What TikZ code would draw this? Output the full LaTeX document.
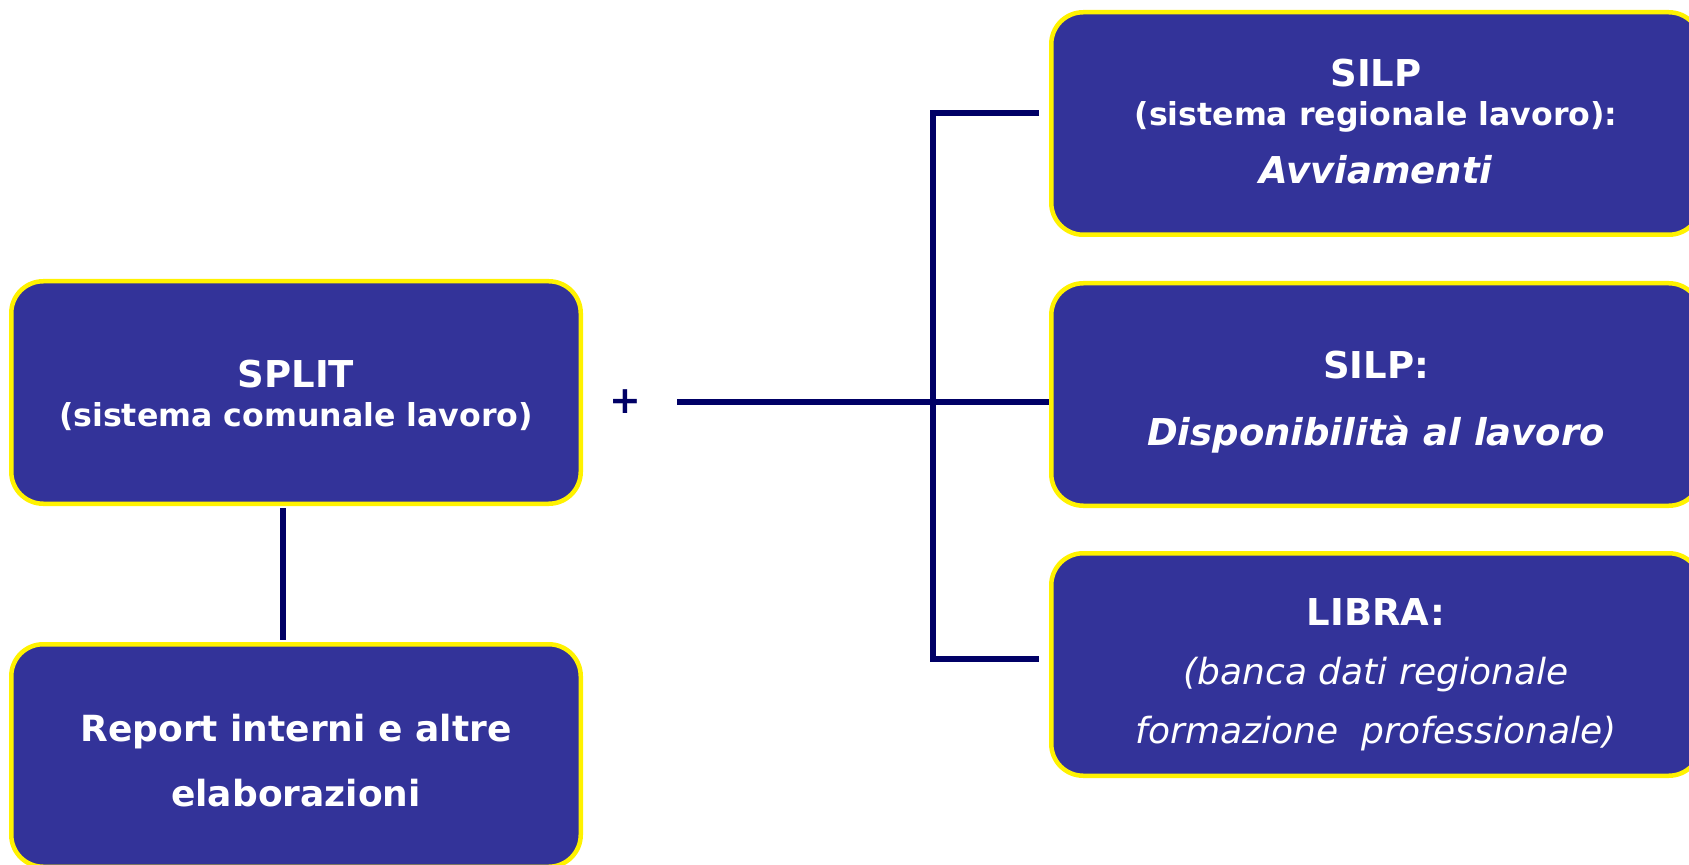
\documentclass[tikz,border=0pt]{standalone}
\usepackage{fontspec}
\setmainfont{DejaVu Sans}

\definecolor{boxblue}{RGB}{51,51,153}
\definecolor{linenavy}{RGB}{0,0,102}
% top strut: pushes the text of a box down
\newcommand{\topgap}[1]{\rule{0pt}{#1}}

\begin{document}
\begin{tikzpicture}[x=.5pt,y=-.5pt]
	\tikzstyle{every node}=[inner sep=0pt, align=center, text=white]
	\tikzstyle{box}=[draw=yellow, line width=2.25pt, fill=boxblue, rounded corners=16pt, minimum height=111.25pt]
	\tikzstyle{link}=[draw=linenavy, line width=2.75pt]
	\useasboundingbox (0,0) rectangle (1689,865);
	\clip (0,0) rectangle (1689,865);
	% left column
	\draw (296,392.5) node (split) [box, minimum width=284.75pt, font=\fontsize{15.8pt}{19.5pt}\selectfont\bfseries] {\topgap{16.9pt}{\fontsize{18.5pt}{19.5pt}\selectfont SPLIT}\\(sistema comunale lavoro)};
	\draw (296,755.5) node (report) [box, minimum width=284.75pt, font=\fontsize{18pt}{32.5pt}\selectfont\bfseries] {\topgap{18.5pt}Report interni e altre\\elaborazioni};
	% right column
	\draw (1376,123.5) node (avv) [box, minimum width=324.75pt, font=\fontsize{15.8pt}{19.5pt}\selectfont\bfseries] {{\fontsize{18.5pt}{19.5pt}\selectfont SILP}\\(sistema regionale lavoro):\\[9.5pt]{\fontsize{18.5pt}{19.5pt}\selectfont\itshape Avviamenti}\rule[-2.5pt]{0pt}{2.5pt}};
	\draw (1376,394.5) node (disp) [box, minimum width=324.75pt, font=\fontsize{18.5pt}{33.5pt}\selectfont\bfseries] {\topgap{21.5pt}SILP:\\\textit{Disponibilità al lavoro}};
	\draw (1376,664.5) node (libra) [box, minimum width=324.75pt, font=\fontsize{18pt}{29.5pt}\selectfont\itshape] {\topgap{23.5pt}{\fontsize{18.5pt}{29.5pt}\selectfont\bfseries\upshape LIBRA:}\\(banca dati regionale\\formazione \ professionale)};
	\draw (625,402) node (plus) [text=linenavy, font=\fontsize{19pt}{19pt}\selectfont\bfseries] {+};
	% connectors
	\coordinate (hub) at (677,402);
	\coordinate (up) at (1039,113);
	\coordinate (down) at (1039,659);
	\draw[link, shorten <=1.2pt, shorten >=1.2pt] ([xshift=-6.5pt]split.south) -- ([xshift=-6.5pt]report.north);
	\draw[link] (hub) -- (hub -| disp.west);
	\draw[link] (up) -- ++(-106,0) |- (down);
\end{tikzpicture}
\end{document}
